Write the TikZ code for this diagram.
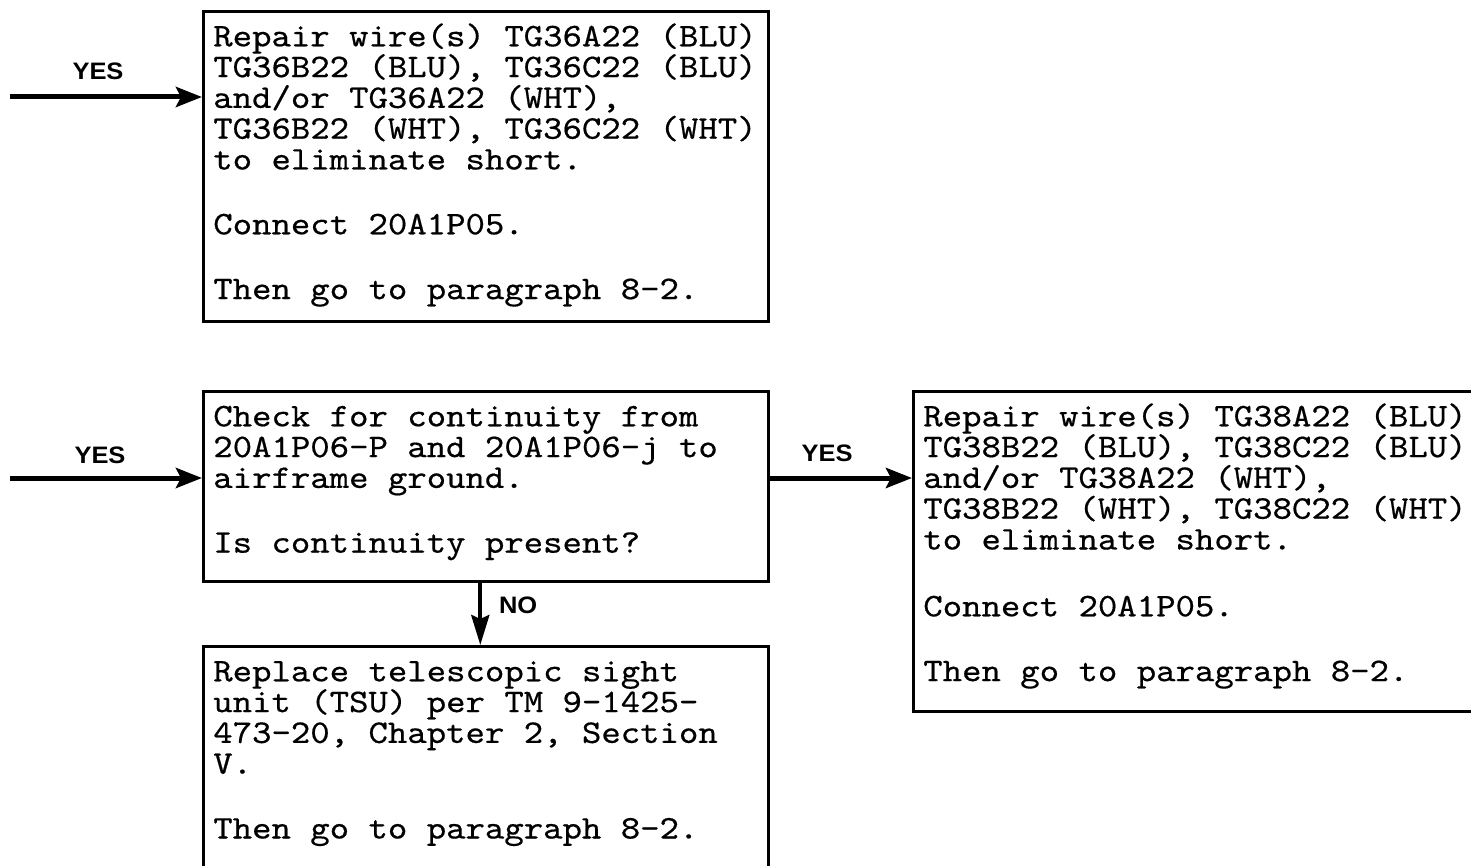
\documentclass[tikz,border=0pt]{standalone}
\usepackage{fontspec}
\usepackage{tikz}
\usetikzlibrary{arrows.meta}
\newfontfamily\yesnofont{Liberation Sans}[FakeStretch=1.07]
\newfontfamily\typerfont{lmmono10-regular.otf}[FakeStretch=1.12,FakeBold=0.5]
\newcommand{\chartfont}{\fontsize{16.5}{15.4}\selectfont\typerfont\lineskiplimit=-40pt
  \spaceskip=\fontcharwd\font`\x\relax}

\begin{document}
\begin{tikzpicture}[x=0.5pt,y=-0.5pt,
    stepbox/.style={draw,line width=1.3pt,anchor=north west,align=flush left,text width=272.5pt,
      inner xsep=5pt,inner ysep=6pt,text height=11.5pt,font=\chartfont},
    yesline/.style={line width=2.5pt,-{Stealth[length=13pt,width=10pt,inset=2.5pt]}},
    noline/.style={line width=2pt,-{Stealth[length=15pt,width=9pt,inset=2pt]}},
    answer/.style={font=\yesnofont\bfseries\fontsize{11.9}{13}\selectfont}]
        \useasboundingbox (0,0) rectangle (1471,866);
        \clip (0,0) rectangle (1471,866);
        % boxes
        \node[stepbox,text depth=131.5pt] (repair36) at (202,10) {Repair wire(s) TG36A22 (BLU)\\TG36B22 (BLU), TG36C22 (BLU)\\and/or TG36A22 (WHT),\\TG36B22 (WHT), TG36C22 (WHT)\\to eliminate short.\\[17pt]Connect 20A1P05.\\[17pt]Then go to paragraph 8-2.};
        \node[stepbox,text depth=71.5pt] (check) at (202,390) {Check for continuity from\\20A1P06-P and 20A1P06-j to\\airframe ground.\\[17pt]Is continuity present?};
        \node[stepbox,text depth=112pt] (replace) at (202,645) {Replace telescopic sight\\unit (TSU) per TM 9-1425-\\473-20, Chapter 2, Section\\V.\\[17pt]Then go to paragraph 8-2.};
        \node[stepbox,text width=300pt,text depth=136.5pt] (repair38) at (912,390) {Repair wire(s) TG38A22 (BLU)\\TG38B22 (BLU), TG38C22 (BLU)\\and/or TG38A22 (WHT),\\TG38B22 (WHT), TG38C22 (WHT)\\to eliminate short.\\[18pt]Connect 20A1P05.\\[17pt]Then go to paragraph 8-2.};
        % arrows
        \coordinate (feed36) at (10,97);
        \coordinate (feedchk) at (10,478);
        \draw[yesline] (feed36) -- (feed36 -| repair36.west);
        \draw[yesline] (feedchk) -- (feedchk -| check.west);
        \draw[yesline] (check.east |- feedchk) -- (feedchk -| repair38.west);
        \draw[noline] ([xshift=-2.75pt]check.south) -- ([xshift=-2.75pt]replace.north);
        \node[answer] (yes36) at (98,71) {YES};
        \node[answer] (yeschk) at (100,455) {YES};
        \node[answer] (yes38) at (827,453) {YES};
        \node[answer,anchor=west] (nochk) at (492,605) {NO};
\end{tikzpicture}
\end{document}
